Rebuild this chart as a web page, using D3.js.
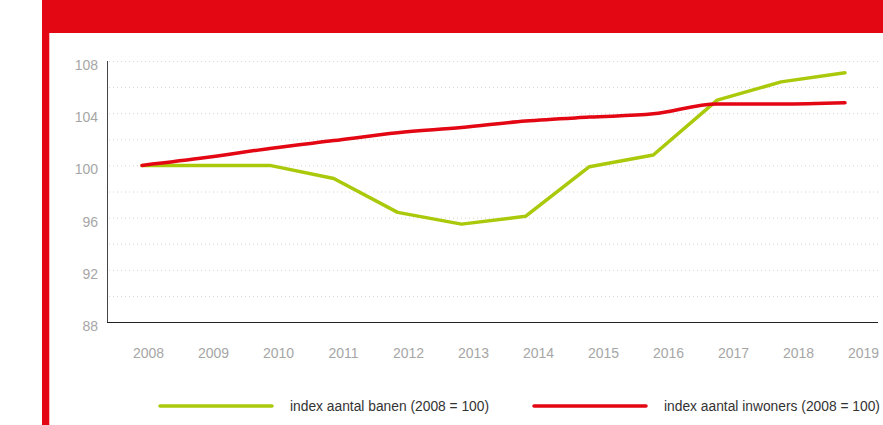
<!DOCTYPE html>
<html>
<head>
<meta charset="utf-8">
<script src="https://cdn.jsdelivr.net/npm/d3@7"></script>
<style>
  body { margin: 0; background: #fff; }
  svg { display: block; font-family: "Liberation Sans", Arial, sans-serif; }
</style>
</head>
<body>
<div id="chart"></div>
<script>
const years = [2008, 2009, 2010, 2011, 2012, 2013, 2014, 2015, 2016, 2017, 2018, 2019];
const banen = [100, 100, 100, 99.0, 96.4, 95.5, 96.1, 99.9, 100.8, 105.0, 106.4, 107.1];
const inwoners = [100, 100.6, 101.3, 101.9, 102.5, 102.9, 103.4, 103.7, 103.95, 104.7, 104.7, 104.8];
const yTicks = [88, 92, 96, 100, 104, 108];
const yMinor = [90, 94, 98, 102, 106];
const seriesNames = ["index aantal banen (2008 = 100)", "index aantal inwoners (2008 = 100)"];

const width = 883, height = 425;
const green = "#aac90a", red = "#e30613";

const svg = d3.select("#chart").append("svg")
    .attr("width", width)
    .attr("height", height);

// Red frame: header band and left bar
svg.append("rect").attr("x", 42).attr("y", 0).attr("width", width - 42).attr("height", 33).attr("fill", red);
svg.append("rect").attr("x", 42).attr("y", 33).attr("width", 7).attr("height", height - 33).attr("fill", red);
svg.append("rect").attr("x", 49).attr("y", 33).attr("width", 1).attr("height", height - 33).attr("fill", "#f6b8bb");

// Scales
const y = d3.scaleLinear().domain([88, 108]).range([322, 61]);
const xPoint = d3.scalePoint().domain(years).range([142, 845]);
const xLabel = d3.scalePoint().domain(years).range([148, 863]);

const axisLeft = 107, axisRight = 878;

// Dotted gridlines
svg.append("g")
    .selectAll("line")
    .data(yTicks.filter(d => d > 88).concat(yMinor))
    .join("line")
    .attr("x1", axisLeft + 2)
    .attr("x2", axisRight)
    .attr("y1", d => y(d) + 0.5)
    .attr("y2", d => y(d) + 0.5)
    .attr("stroke", "#d6d6d6")
    .attr("stroke-width", 1)
    .attr("stroke-dasharray", "1,3");

// Y axis labels
svg.append("g")
    .attr("transform", `translate(${axisLeft - 9},4)`)
    .call(d3.axisLeft(y).tickValues(yTicks).tickSize(0).tickPadding(0))
    .call(g => g.select(".domain").remove())
    .selectAll("text")
    .style("font-size", "14px")
    .style("fill", "#a6a6a6")
    .style("font-family", "'Liberation Sans', Arial, sans-serif");

// X axis labels
svg.append("g")
    .attr("transform", "translate(0,348)")
    .call(d3.axisBottom(xLabel).tickSize(0).tickPadding(0).tickFormat(d3.format("d")))
    .call(g => g.select(".domain").remove())
    .selectAll("text")
    .style("font-size", "14px")
    .style("fill", "#a6a6a6")
    .style("font-family", "'Liberation Sans', Arial, sans-serif");

// Axis lines
svg.append("line")
    .attr("x1", axisLeft + 0.5).attr("x2", axisLeft + 0.5)
    .attr("y1", 61).attr("y2", 322)
    .attr("stroke", "#444").attr("stroke-width", 1);
svg.append("line")
    .attr("x1", axisLeft).attr("x2", axisRight)
    .attr("y1", 322.5).attr("y2", 322.5)
    .attr("stroke", "#222").attr("stroke-width", 1);

// Lines
const lineGreen = d3.line()
    .x((d, i) => xPoint(years[i]))
    .y(d => y(d));
const lineRed = d3.line()
    .x((d, i) => xPoint(years[i]))
    .y(d => y(d))
    .curve(d3.curveMonotoneX);

svg.append("path")
    .datum(banen)
    .attr("d", lineGreen)
    .attr("fill", "none")
    .attr("stroke", green)
    .attr("stroke-width", 3.5)
    .attr("stroke-linejoin", "round")
    .attr("stroke-linecap", "round");

svg.append("path")
    .datum(inwoners)
    .attr("d", lineRed)
    .attr("fill", "none")
    .attr("stroke", red)
    .attr("stroke-width", 3.5)
    .attr("stroke-linecap", "round");

// Legend
const legend = [
    { name: seriesNames[0], color: green, x: 160 },
    { name: seriesNames[1], color: red, x: 534 }
];
const lg = svg.append("g").selectAll("g").data(legend).join("g")
    .attr("transform", d => `translate(${d.x},406)`);
lg.append("line")
    .attr("x1", 0).attr("x2", 112)
    .attr("stroke", d => d.color)
    .attr("stroke-width", 3.5)
    .attr("stroke-linecap", "round");
lg.append("text")
    .attr("x", 130)
    .attr("dy", "0.35em")
    .style("font-size", "13.8px")
    .style("fill", "#333")
    .text(d => d.name);
</script>
</body>
</html>
